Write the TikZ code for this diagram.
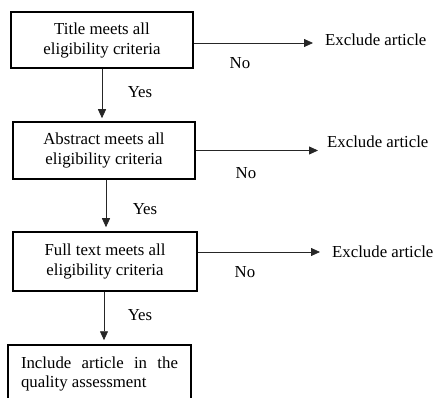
\documentclass[tikz,border=0pt]{standalone}
\usepackage{fontspec}
\setmainfont{Liberation Serif}
\usetikzlibrary{arrows.meta}
\begin{document}
\begin{tikzpicture}[x=1pt,y=-1pt,
  box/.style={draw=black, line width=1.5pt, inner sep=0pt, align=center, font=\fontsize{16.8}{20}\selectfont},
  lbl/.style={inner sep=0pt, font=\fontsize{16.8}{20}\selectfont},
  arr/.style={draw=black!85, line width=0.8pt, -{Triangle[length=9pt,width=8pt]}}]
\useasboundingbox (0,0) rectangle (434,398);
\node[box, minimum width=182pt, minimum height=56pt] (b1) at (102,40) {Title meets all\\eligibility criteria};
\node[box, minimum width=182pt, minimum height=57pt] (b2) at (104,150.5) {Abstract meets all\\eligibility criteria};
\node[box, minimum width=184pt, minimum height=59pt] (b3) at (105,261.5) {Full text meets all\\eligibility criteria};
\node[box, minimum width=183pt, minimum height=57pt, text width=157pt, align=justify, font=\fontsize{16.8}{19}\selectfont] (b4) at (99.5,373.5) {Include article in the quality assessment};
\node[lbl, anchor=west] (e1) at (325,40) {Exclude article};
\node[lbl, anchor=west] (e2) at (327,142) {Exclude article};
\node[lbl, anchor=west] (e3) at (332,252) {Exclude article};
\node[lbl] (n1) at (240,63) {No};
\node[lbl] (n2) at (246,173) {No};
\node[lbl] (n3) at (245,272) {No};
\node[lbl] (y1) at (140,92) {Yes};
\node[lbl] (y2) at (145,209) {Yes};
\node[lbl] (y3) at (140,315) {Yes};
\draw[arr, shorten >=12pt] ([yshift=-3pt]b1.east) -- ([yshift=-3pt]b1.east -| e1.west);
\draw[arr, shorten >=9pt] (b2.east) -- (b2.east -| e2.west);
\draw[arr, shorten >=12pt] ([yshift=9.5pt]b3.east) -- ([yshift=9.5pt]b3.east -| e3.west);
\draw[arr, shorten >=3pt] (b1.south) -- (b1.south |- b2.north);
\draw[arr, shorten >=4pt] ([xshift=2pt]b2.south) -- ([xshift=2pt]b2.south |- b3.north);
\draw[arr, shorten >=4pt] ([xshift=-1pt]b3.south) -- ([xshift=-1pt]b3.south |- b4.north);
\end{tikzpicture}
\end{document}
